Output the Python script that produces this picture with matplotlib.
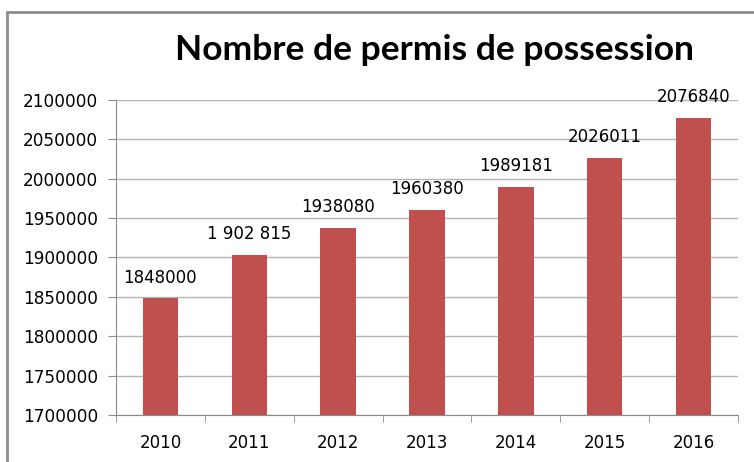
import matplotlib
matplotlib.use("Agg")
import matplotlib.pyplot as plt
from matplotlib.patches import Rectangle

years = ["2010", "2011", "2012", "2013", "2014", "2015", "2016"]
permits = [1848000, 1902815, 1938080, 1960380, 1989181, 2026011, 2076840]
value_labels = ["1848000", "1 902 815", "1938080", "1960380", "1989181", "2026011", "2076840"]
y_ticks = [1700000, 1750000, 1800000, 1850000, 1900000, 1950000, 2000000, 2050000, 2100000]

BAR_COLOR = "#C0504D"
AXIS_COLOR = "#8C8C8C"
GRID_COLOR = "#B4B4B4"

fig = plt.figure(figsize=(7.54, 4.62), dpi=100)
fig.patch.set_facecolor("white")

# outer chart frame (cut off on right and bottom like the screenshot)
fig.patches.append(Rectangle((7 / 754, -0.1), 1.2, 1 - 12 / 462 + 0.1,
                             transform=fig.transFigure, fill=False,
                             edgecolor="#8C8C8C", linewidth=2))

ax = fig.add_axes([116 / 754, 1 - 415 / 462, (738 - 116) / 754, (415 - 100) / 462])
x = range(len(years))
ax.bar(x, permits, width=0.4, color=BAR_COLOR, zorder=3)

ax.set_ylim(1700000, 2100000)
ax.set_xlim(-0.5, len(years) - 0.5)
ax.set_yticks(y_ticks)
ax.set_yticklabels([str(v) for v in y_ticks], fontsize=12.2, fontfamily="DejaVu Sans")
ax.set_xticks(list(x))
ax.set_xticklabels(years, fontsize=12, fontfamily="DejaVu Sans")
ax.tick_params(axis="x", length=0, pad=14)
ax.tick_params(axis="y", length=6, color=AXIS_COLOR, pad=7)
# category separators on the x axis
ax.set_xticks([i + 0.5 for i in range(-1, len(years))], minor=True)
ax.tick_params(axis="x", which="minor", length=5, color=AXIS_COLOR, direction="out")

ax.grid(axis="y", color=GRID_COLOR, linewidth=1, zorder=0)
for side in ["top", "right"]:
    ax.spines[side].set_visible(False)
ax.spines["left"].set_color(AXIS_COLOR)
ax.spines["bottom"].set_color(AXIS_COLOR)

for i, (v, lab) in enumerate(zip(permits, value_labels)):
    ax.annotate(lab, (i, v), xytext=(0, 8.5), textcoords="offset points",
                ha="center", va="bottom", fontsize=12, fontfamily="DejaVu Sans")

fig.text(435 / 754, 1 - 50 / 462, "Nombre de permis de possession",
         ha="center", va="center", fontsize=25.5, fontweight="bold", fontfamily="Lato")

fig.savefig("out.png", dpi=100)
